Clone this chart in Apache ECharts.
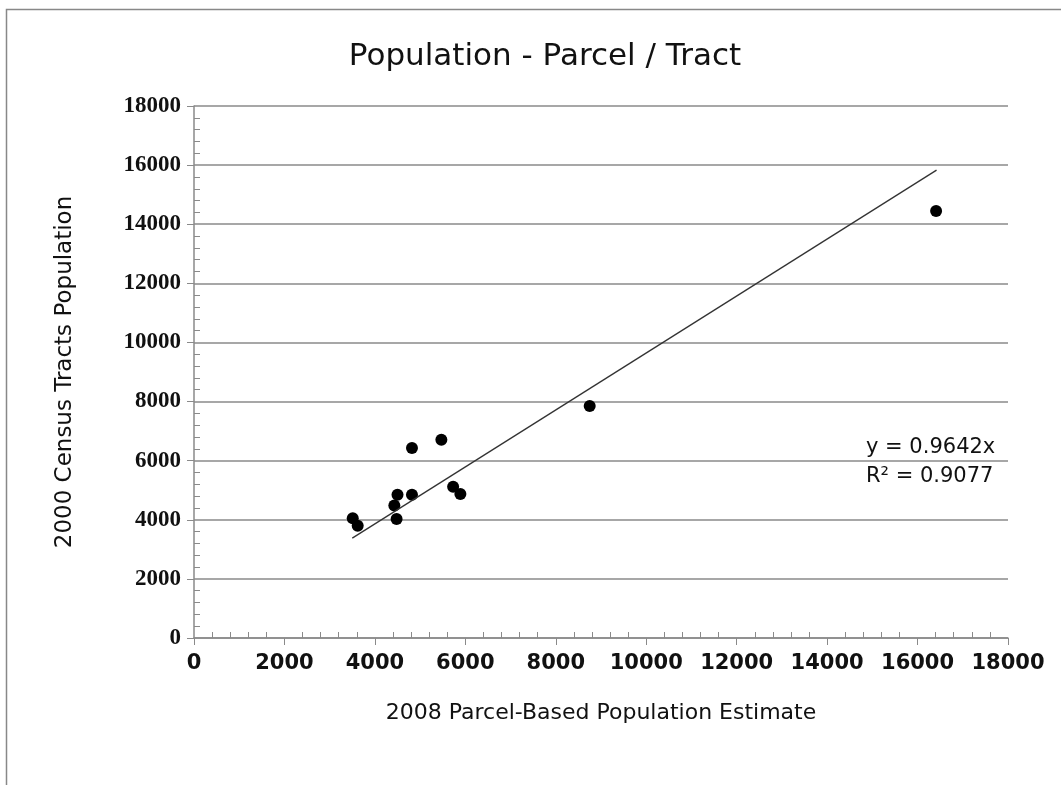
<!DOCTYPE html>
<html>
<head>
<meta charset="utf-8">
<title>Population - Parcel / Tract</title>
<script src="https://cdn.jsdelivr.net/npm/echarts@6/dist/echarts.min.js"></script>
<style>
html, body { margin: 0; padding: 0; background: #fff; }
#main { width: 1061px; height: 785px; }
</style>
</head>
<body>
<div id="main"></div>
<script>
// 2008 parcel-based estimate (x) vs 2000 census tracts population (y)
var parcelEstimate = [3510, 3620, 4500, 4430, 4480, 4820, 4820, 5470, 5730, 5890, 8750, 16410];
var tractPopulation = [4050, 3800, 4850, 4480, 4030, 4850, 6430, 6710, 5120, 4870, 7850, 14450];
// trend line end points as drawn
var trendX = [3500, 16420];
var trendY = [3380, 15830];
var trendLabel = ['y = 0.9642x', 'R\u00B2 = 0.9077'];

var points = parcelEstimate.map(function (x, i) { return [x, tractPopulation[i]]; });
var trend = trendX.map(function (x, i) { return [x, trendY[i]]; });

var gray = '#8a8a8a';
var plain = function (v) { return String(v); };
var chart = echarts.init(document.getElementById('main'));
chart.setOption({
    animation: false,
    backgroundColor: '#fff',
    title: {
        text: 'Population - Parcel / Tract',
        left: 540, top: 36, textAlign: 'center',
        textStyle: { fontFamily: 'DejaVu Sans', fontWeight: 'normal', fontSize: 31, color: '#111' }
    },
    grid: { left: 194, right: 53, top: 106, bottom: 147 },
    xAxis: [{
        type: 'value', min: 0, max: 18000, interval: 2000,
        name: '2008 Parcel-Based Population Estimate',
        nameLocation: 'middle', nameGap: 64,
        nameTextStyle: { fontFamily: 'DejaVu Sans', fontSize: 22, color: '#111' },
        axisLine: { show: true, lineStyle: { color: gray, width: 1.5 } },
        axisTick: { show: true, length: 7, lineStyle: { color: gray } },
        axisLabel: { margin: 15, formatter: plain, fontFamily: 'DejaVu Sans', fontWeight: 'bold', fontSize: 21, color: '#111' },
        splitLine: { show: false }
    }, {
        type: 'value', min: 0, max: 18000, interval: 2000, position: 'bottom',
        axisLine: { show: false },
        axisTick: { show: false, inside: true },
        minorTick: { show: true, splitNumber: 5, length: 6, lineStyle: { color: gray } },
        axisLabel: { show: false },
        splitLine: { show: false }
    }],
    yAxis: [{
        type: 'value', min: 0, max: 18000, interval: 2000,
        name: '2000 Census Tracts Population',
        nameLocation: 'middle', nameGap: 117, nameRotate: 90,
        nameTextStyle: { fontFamily: 'DejaVu Sans', fontSize: 23, color: '#111' },
        axisLine: { show: true, lineStyle: { color: gray, width: 1.5 } },
        axisTick: { show: true, length: 7, lineStyle: { color: gray } },
        axisLabel: { margin: 13, formatter: plain, fontFamily: 'Liberation Serif', fontWeight: 'bold', fontSize: 23, color: '#111' },
        splitLine: { show: true, lineStyle: { color: gray, width: 1.5 } }
    }, {
        type: 'value', min: 0, max: 18000, interval: 2000, position: 'left',
        axisLine: { show: false },
        axisTick: { show: false, inside: true },
        minorTick: { show: true, splitNumber: 5, length: 6, lineStyle: { color: gray } },
        axisLabel: { show: false },
        splitLine: { show: false }
    }],
    series: [{
        type: 'line', data: trend, symbol: 'none',
        lineStyle: { color: '#333', width: 1.3 },
        silent: true
    }, {
        type: 'scatter', data: points, symbolSize: 12,
        itemStyle: { color: '#000', opacity: 1 }
    }],
    graphic: [{
        type: 'rect', left: 4, top: 7,
        shape: { width: 1100, height: 800 },
        style: { fill: 'none', stroke: '#888', lineWidth: 1.5 },
        silent: true
    }, {
        type: 'text', left: 866, top: 437,
        style: { text: trendLabel[0], font: '21px "DejaVu Sans"', fill: '#111' }
    }, {
        type: 'text', left: 866, top: 466,
        style: { text: trendLabel[1], font: '21px "DejaVu Sans"', fill: '#111' }
    }]
});
</script>
</body>
</html>
